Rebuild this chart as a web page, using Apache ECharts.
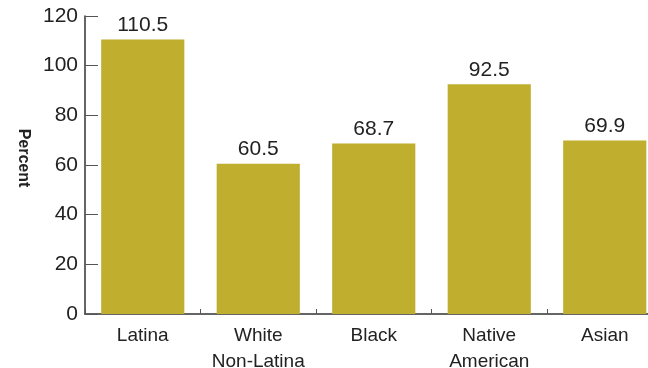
<!DOCTYPE html>
<html>
<head>
<meta charset="utf-8">
<style>
html,body{margin:0;padding:0;background:#fff;}
#chart{width:648px;height:368px;}
</style>
<script src="https://cdn.jsdelivr.net/npm/echarts@6/dist/echarts.min.js"></script>
</head>
<body>
<div id="chart"></div>
<script>
var categories = ['Latina', 'White\nNon-Latina', 'Black', 'Native\nAmerican', 'Asian'];
var values = [110.5, 60.5, 68.7, 92.5, 69.9];
var yTicks = [0, 20, 40, 60, 80, 100, 120];
var yTitle = 'Percent';

var FONT = '"Liberation Sans", Arial, sans-serif';
var chart = echarts.init(document.getElementById('chart'), null, {renderer: 'canvas'});
chart.setOption({
  animation: false,
  backgroundColor: '#ffffff',
  grid: {left: 85, width: 577.5, top: 16, height: 298, containLabel: false, outerBoundsMode: 'none'},
  xAxis: {
    type: 'category',
    data: categories,
    axisLine: {show: true, lineStyle: {color: '#333', width: 1.5}},
    axisTick: {show: true, inside: true, length: 5, lineStyle: {color: '#555'}},
    axisLabel: {interval: 0, color: '#222', fontFamily: FONT, fontSize: 19, lineHeight: 26, margin: 9}
  },
  yAxis: {
    type: 'value',
    min: yTicks[0],
    max: yTicks[yTicks.length - 1],
    interval: yTicks[1] - yTicks[0],
    splitLine: {show: false},
    axisLine: {show: true, lineStyle: {color: '#333', width: 1.5}},
    axisTick: {show: true, inside: true, length: 13, lineStyle: {color: '#555'}},
    axisLabel: {color: '#222', fontFamily: FONT, fontSize: 21, margin: 7}
  },
  graphic: [{
    type: 'text',
    x: 23, y: 158,
    rotation: -Math.PI / 2,
    style: {text: yTitle, font: 'bold 16px ' + FONT, fill: '#222', textAlign: 'center', textVerticalAlign: 'middle'}
  }],
  series: [{
    type: 'bar',
    data: values,
    barCategoryGap: '28%',
    itemStyle: {color: '#c0ae2f'},
    label: {show: true, position: 'top', distance: 4, color: '#222', fontFamily: FONT, fontSize: 21}
  }]
});
</script>
</body>
</html>
